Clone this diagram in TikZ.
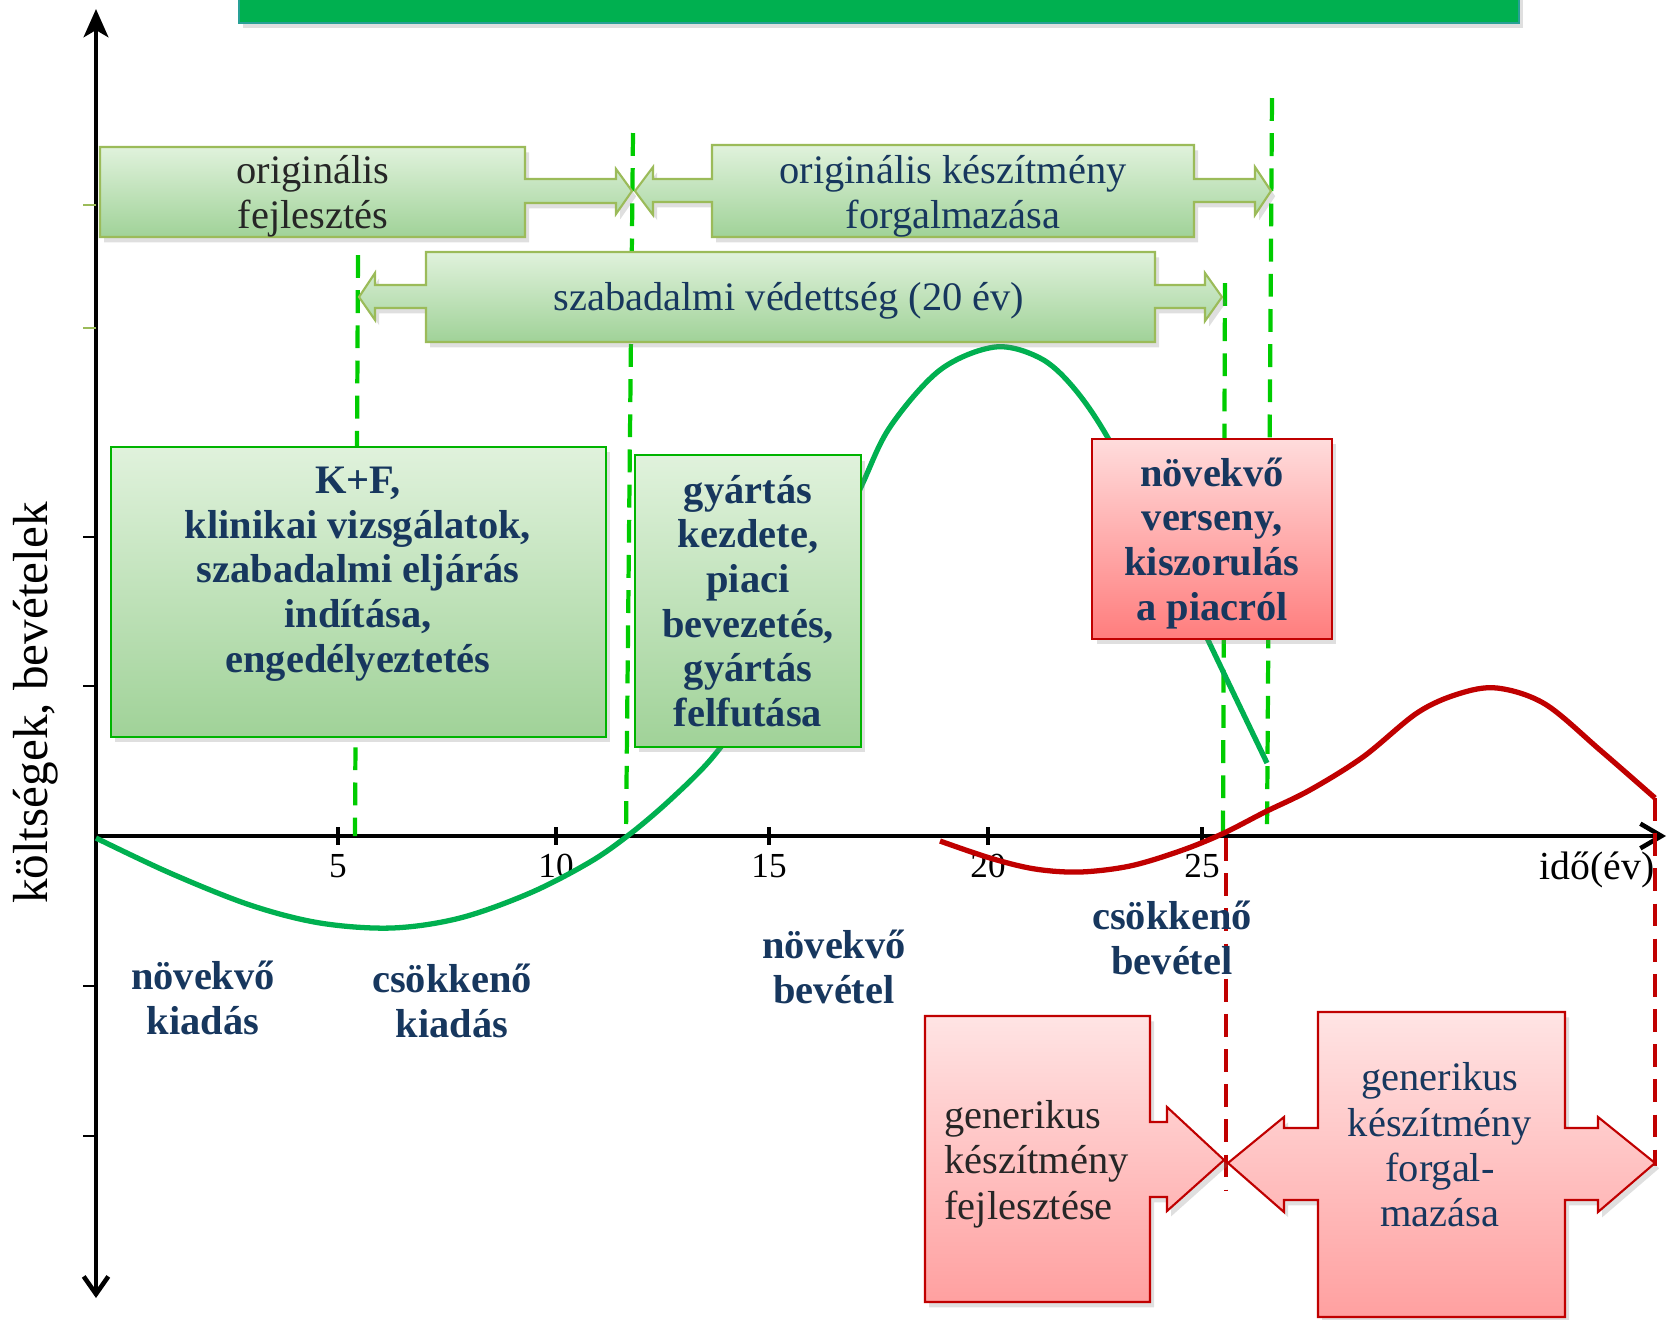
\documentclass[tikz,border=0pt]{standalone}
\usepackage{fontspec}
\setmainfont{Liberation Serif}
\usepackage{tikz}
\usetikzlibrary{arrows.meta,shadows}
\definecolor{titlegreen}{RGB}{0,176,80}
\definecolor{titleedge}{RGB}{40,160,150}
\definecolor{curvegreen}{RGB}{0,176,80}
\definecolor{guidegreen}{RGB}{0,204,0}
\definecolor{boxgreen}{RGB}{0,180,0}
\definecolor{olivegreen}{RGB}{155,187,89}
\definecolor{greentop}{RGB}{224,242,220}
\definecolor{greenbottom}{RGB}{160,210,152}
\definecolor{darkred}{RGB}{192,0,0}
\definecolor{redtop}{RGB}{255,220,220}
\definecolor{redbottom}{RGB}{255,125,125}
\definecolor{pinktop}{RGB}{255,228,228}
\definecolor{pinkbottom}{RGB}{255,160,160}
\definecolor{navy}{RGB}{23,55,94}

\begin{document}
\begin{tikzpicture}[x=0.01cm, y=-0.01cm,
    axisline/.style={line width=1.3pt, black},
    tickmark/.style={line width=0.6pt, black},
    guide/.style={dash pattern=on 6.5pt off 3.5pt, line width=1.2pt},
    curve/.style={line width=1.5pt, line join=round},
    shadowed/.style={drop shadow={shadow xshift=1.2pt, shadow yshift=-1.5pt, opacity=0.25}},
    gbox/.style={shadowed, draw=boxgreen, semithick, top color=greentop, bottom color=greenbottom},
    garrow/.style={shadowed, draw=olivegreen, semithick, top color=greentop, bottom color=greenbottom},
    rbox/.style={shadowed, draw=darkred, semithick, top color=redtop, bottom color=redbottom},
    rarrow/.style={shadowed, draw=darkred, semithick, top color=pinktop, bottom color=pinkbottom},
    txt/.style={align=center, font=\fontsize{11.5}{12.9}\selectfont},
    boldtxt/.style={align=center, font=\fontsize{11.5}{12.7}\selectfont\bfseries, text=navy},
    ticklabel/.style={font=\fontsize{10}{11}\selectfont},
]
    \useasboundingbox (0,0) rectangle (1668,1320);

    % title bar (cut at the top)
    \draw[titleedge, fill=titlegreen, shadowed] (239,-20) rectangle (1519,23);

    % axes
    \draw[axisline, -{Straight Barb[length=6pt,width=7pt]}] (96,836) -- (1666,836);
    \draw[axisline, {Straight Barb[length=5pt,width=7pt]}-{Stealth[length=8pt,width=7pt,inset=2pt]}] (96,1298) -- (96,9);
    \foreach \xx/\yr in {338/5,556/10,769/15,988/20,1202/25}{
        \draw[tickmark, line width=1pt] (\xx,827) -- (\xx,845);
        \node[ticklabel] (t\yr) at (\xx,866) {\yr};
    }
    \foreach \yy in {537,686,986,1136}
        \draw[tickmark] (83,\yy) -- (96,\yy);
    \foreach \yy in {205,328}
        \draw[tickmark, olivegreen] (83,\yy) -- (96,\yy);
    \node[rotate=90, font=\fontsize{14}{16}\selectfont] (ylabel) at (36,703) {költségek, bevételek};
    \node[font=\fontsize{11.3}{13}\selectfont] (xlabel) at (1597,870) {idő(év)};

    % milestones
    \draw[guide, guidegreen] (358,255) -- (355,836);
    \draw[guide, guidegreen] (633,133) -- (626,836);
    \draw[guide, guidegreen] (1225,283) -- (1223,836);
    \draw[guide, guidegreen] (1272,98) -- (1267,836);
    \draw[guide, darkred] (1226,838) -- (1226,1190);
    \draw[guide, darkred] (1655,798) -- (1655,1166);

    % cash flow curves
    \draw[curve, curvegreen] plot[smooth, tension=0.55] coordinates {
        (96,838) (170,873) (250,905) (320,923) (392,928) (460,918) (530,893)
        (590,862) (630,834) (670,800) (712,758) (750,705) (789,637) (825,565)
        (861,487) (890,427) (940,370) (995,347) (1040,358) (1073,387) (1108,438)
        (1160,538) (1208,640) (1267,763)};
    \draw[curve, darkred] plot[smooth, tension=0.55] coordinates {
        (940,841) (990,858) (1035,869) (1080,872) (1130,866) (1180,851) (1222,834)
        (1265,812) (1310,790) (1363,757) (1417,713) (1458,694) (1497,688)
        (1545,704) (1600,750) (1655,798)};

    % original product
    \draw[garrow] (100,147) -- (525,147) -- (525,179) -- (616,179) -- (616,169) -- (632,191)
        -- (616,214) -- (616,203) -- (525,203) -- (525,237) -- (100,237) -- cycle;
    \node[txt, text=black!85] (origdev) at (313,196) {originális\\fejlesztés};

    \draw[garrow] (712,145) -- (1194,145) -- (1194,179) -- (1255,179) -- (1255,167) -- (1271,191)
        -- (1255,215) -- (1255,202) -- (1194,202) -- (1194,237) -- (712,237) -- (712,202)
        -- (653,202) -- (653,215) -- (635,191) -- (653,167) -- (653,179) -- (712,179) -- cycle;
    \node[txt, text=navy] (origsale) at (953,196) {originális készítmény\\forgalmazása};

    \draw[garrow] (426,252) -- (1155,252) -- (1155,285) -- (1205,285) -- (1205,273) -- (1222,297)
        -- (1205,321) -- (1205,308) -- (1155,308) -- (1155,342) -- (426,342) -- (426,308)
        -- (375,308) -- (375,320) -- (359,297) -- (375,273) -- (375,285) -- (426,285) -- cycle;
    \node[txt, text=navy] (patent) at (789,301) {szabadalmi védettség (20 év)};

    \draw[gbox] (111,447) rectangle (606,737);
    \node[boldtxt] (research) at (358,574) {K+F,\\klinikai vizsgálatok,\\szabadalmi eljárás\\indítása,\\engedélyeztetés};

    \node[gbox, boldtxt, minimum width=2.26cm, minimum height=2.91cm] (launch) at (748,601)
        {gyártás\\kezdete,\\piaci\\bevezetés,\\gyártás\\felfutása};

    \node[rbox, boldtxt, text depth=0pt, minimum width=2.39cm, minimum height=2cm] (compete) at (1212,539)
        {növekvő\\verseny,\\kiszorulás\\a piacról};

    % phases of the curve
    \node[boldtxt] (incspend) at (203,998) {növekvő\\kiadás};
    \node[boldtxt] (decspend) at (452,1001) {csökkenő\\kiadás};
    \node[boldtxt] (increv) at (834,967) {növekvő\\bevétel};
    \node[boldtxt] (decrev) at (1172,938) {csökkenő\\bevétel};

    % generic product
    \draw[rarrow] (925,1016) -- (1150,1016) -- (1150,1122) -- (1167,1122) -- (1167,1107) -- (1224,1160)
        -- (1167,1211) -- (1167,1197) -- (1150,1197) -- (1150,1302) -- (925,1302) -- cycle;
    \node[txt, align=left, anchor=west, text=black!85] (gendev) at (932,1164)
        {generikus\\készítmény\\fejlesztése};

    \draw[rarrow] (1318,1012) -- (1565,1012) -- (1565,1128) -- (1598,1128) -- (1598,1117) -- (1655,1163)
        -- (1598,1212) -- (1598,1200) -- (1565,1200) -- (1565,1317) -- (1318,1317) -- (1318,1200)
        -- (1284,1200) -- (1284,1212) -- (1228,1163) -- (1284,1117) -- (1284,1128) -- (1318,1128) -- cycle;
    \node[txt, text=navy] (gensale) at (1440,1145) {generikus\\készítmény\\forgal-\\mazása};
\end{tikzpicture}
\end{document}
